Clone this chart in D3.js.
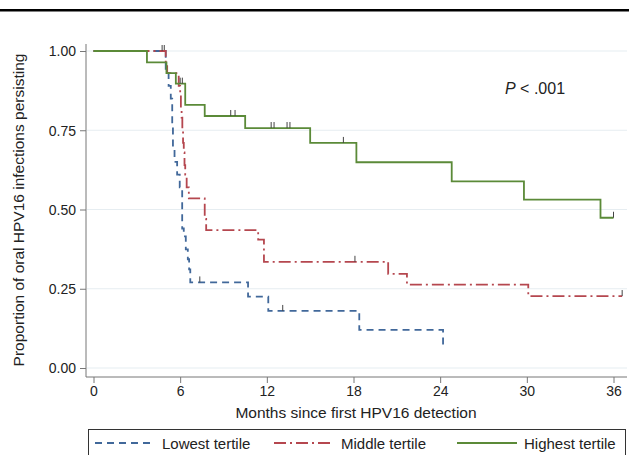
<!DOCTYPE html>
<html>
<head>
<meta charset="utf-8">
<script src="https://cdn.jsdelivr.net/npm/d3@7"></script>
<style>
  body { margin: 0; background: #fff; }
  text { font-family: "Liberation Sans", Arial, sans-serif; fill: #222; }
</style>
</head>
<body>
<script>
//Width and height
var w = 629;
var h = 455;

//Kaplan-Meier steps (months, proportion)
var lowTimes = [0, 5.0, 5.2, 5.35, 5.45, 5.5, 5.61, 5.79, 5.97, 6.14, 6.25, 6.39, 6.53, 6.62, 6.7, 10.7, 12.1, 18.4, 24.2];
var lowSurv  = [1, 0.93, 0.89, 0.85, 0.77, 0.69, 0.65, 0.61, 0.57, 0.44, 0.415, 0.374, 0.343, 0.311, 0.27, 0.225, 0.18, 0.12, 0.062];
var lowEnd = 24.2;
var lowCensor = [4.9, 7.36, 13.1];

var midTimes = [0, 5.0, 5.1, 5.9, 6.0, 6.05, 6.1, 6.15, 6.2, 6.25, 6.3, 6.35, 6.45, 6.6, 7.7, 7.8, 11.4, 11.8, 20.4, 21.7, 30.1];
var midSurv  = [1, 0.96, 0.93, 0.89, 0.86, 0.82, 0.79, 0.75, 0.71, 0.68, 0.64, 0.61, 0.57, 0.535, 0.47, 0.435, 0.405, 0.335, 0.297, 0.263, 0.227];
var midEnd = 36.6;
var midCensor = [4.75, 18.1, 36.6];

var highTimes = [0, 3.7, 5.05, 5.7, 6.35, 7.7, 10.5, 15.0, 18.2, 24.8, 29.8, 35.1];
var highSurv  = [1, 0.964, 0.93, 0.897, 0.83, 0.795, 0.757, 0.71, 0.649, 0.589, 0.531, 0.474];
var highEnd = 36.0;
var highCensor = [6.0, 6.15, 9.5, 9.8, 12.3, 12.5, 13.4, 13.6, 17.3, 36.0];

var xTicks = [0, 6, 12, 18, 24, 30, 36];
var yTicks = [0, 0.25, 0.5, 0.75, 1];
var groupNames = ["Lowest tertile", "Middle tertile", "Highest tertile"];
var groupColors = ["#41689a", "#b5474f", "#5b8a38"];
var groupDash = ["7,5", "12,4,2,4", null];

//Scales
var x = d3.scaleLinear().domain([0, 36]).range([93.5, 613.5]);
var y = d3.scaleLinear().domain([0, 1]).range([368, 51]);

var svg = d3.select("body").append("svg")
    .attr("width", w)
    .attr("height", h);

//Top rule
svg.append("rect").attr("x", 0).attr("y", 9).attr("width", w).attr("height", 2.5).attr("fill", "#000");

//Grid lines
svg.selectAll("line.grid")
   .data(yTicks)
   .enter()
   .append("line")
   .attr("x1", 87).attr("x2", 627)
   .attr("y1", function(d) { return y(d); })
   .attr("y2", function(d) { return y(d); })
   .attr("stroke", "#e6edf1")
   .attr("stroke-width", 1.2);

//Axes
var yAxis = d3.axisLeft(y).tickValues(yTicks).tickFormat(d3.format(".2f")).tickSize(6).tickSizeOuter(0);
var gy = svg.append("g").attr("transform", "translate(86,0)").call(yAxis);
gy.select(".domain").remove();
gy.append("line").attr("x1", 0).attr("x2", 0).attr("y1", 44).attr("y2", 377).attr("stroke", "#777");

var xAxis = d3.axisBottom(x).tickValues(xTicks).tickSize(6).tickSizeOuter(0);
var gx = svg.append("g").attr("transform", "translate(0,377)").call(xAxis);
gx.select(".domain").remove();
gx.append("line").attr("x1", 86).attr("x2", 627).attr("y1", 0).attr("y2", 0).attr("stroke", "#777");

[gx, gy].forEach(function(g) {
  g.selectAll(".tick line").attr("stroke", "#777");
  g.selectAll(".tick text").style("font-size", "14px").attr("fill", "#222");
});
gy.selectAll(".tick text").attr("x", -10).attr("dy", "0.35em");
gx.selectAll(".tick text").attr("y", 9);

//Axis titles
svg.append("text")
   .attr("x", 356).attr("y", 418)
   .attr("text-anchor", "middle")
   .style("font-size", "15.5px")
   .text("Months since first HPV16 detection");

svg.append("text")
   .attr("transform", "translate(24,210) rotate(-90)")
   .attr("text-anchor", "middle")
   .style("font-size", "15.5px")
   .text("Proportion of oral HPV16 infections persisting");

//P value
var pt = svg.append("text").attr("x", 505).attr("y", 94).style("font-size", "16px");
pt.append("tspan").style("font-style", "italic").text("P");
pt.append("tspan").text(" < .001");

//Curves
var groups = [
  { times: lowTimes, surv: lowSurv, end: lowEnd, censor: lowCensor },
  { times: midTimes, surv: midSurv, end: midEnd, censor: midCensor },
  { times: highTimes, surv: highSurv, end: highEnd, censor: highCensor }
];

var line = d3.line()
    .x(function(d) { return x(d[0]); })
    .y(function(d) { return y(d[1]); })
    .curve(d3.curveStepAfter);

function survAt(g, t) {
  var s = 1;
  for (var i = 0; i < g.times.length; i++) {
    if (g.times[i] <= t) s = g.surv[i];
  }
  return s;
}

groups.forEach(function(g, i) {
  var pts = g.times.map(function(t, j) { return [t, g.surv[j]]; });
  if (g.end > g.times[g.times.length - 1]) pts.push([g.end, g.surv[g.surv.length - 1]]);

  svg.append("path")
     .attr("d", line(pts))
     .attr("fill", "none")
     .attr("stroke", groupColors[i])
     .attr("stroke-width", 1.8)
     .attr("stroke-dasharray", groupDash[i]);

  //Censor ticks
  svg.selectAll(null)
     .data(g.censor)
     .enter()
     .append("line")
     .attr("x1", function(d) { return x(d); })
     .attr("x2", function(d) { return x(d); })
     .attr("y1", function(d) { return y(survAt(g, d)); })
     .attr("y2", function(d) { return y(survAt(g, d)) - 6; })
     .attr("stroke", "#444")
     .attr("stroke-width", 1);
});

//Legend
svg.append("rect")
   .attr("x", 88.5).attr("y", 429.5)
   .attr("width", 537).attr("height", 40)
   .attr("fill", "#fff")
   .attr("stroke", "#333");

var legX = [95, 274, 457];
groupNames.forEach(function(name, i) {
  svg.append("line")
     .attr("x1", legX[i]).attr("x2", legX[i] + 60)
     .attr("y1", 443).attr("y2", 443)
     .attr("stroke", groupColors[i])
     .attr("stroke-width", 1.8)
     .attr("stroke-dasharray", groupDash[i]);
  svg.append("text")
     .attr("x", legX[i] + 67).attr("y", 449)
     .style("font-size", "15px")
     .text(name);
});
</script>
</body>
</html>
